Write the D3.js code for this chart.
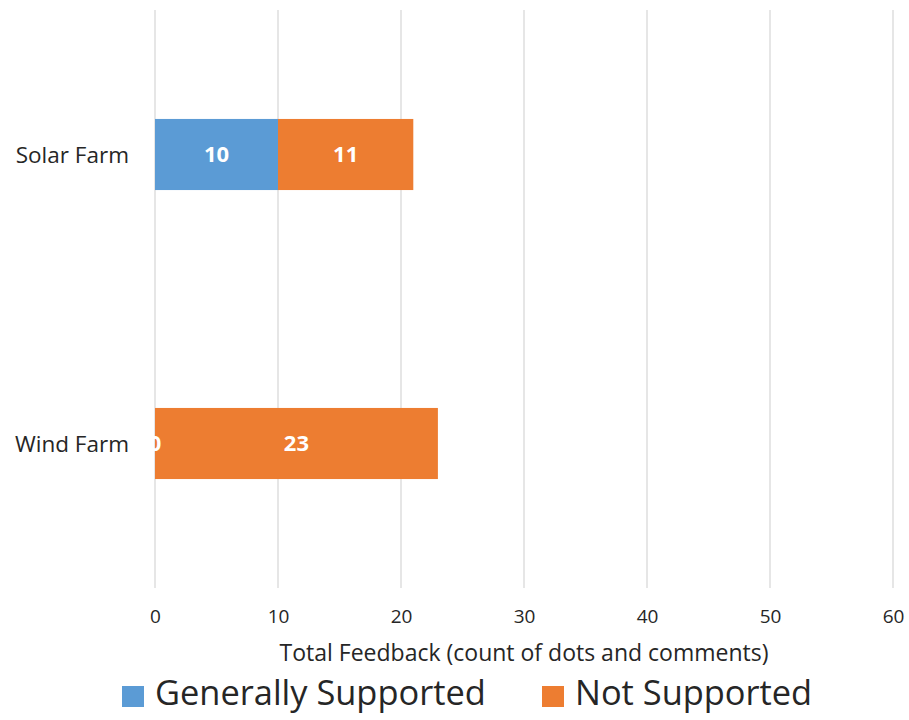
<!DOCTYPE html>
<html>
<head>
<meta charset="utf-8">
<script src="https://cdn.jsdelivr.net/npm/d3@7"></script>
<style>
  html, body { margin: 0; padding: 0; background: #fff; }
  svg { display: block; font-family: "Open Sans", "Noto Sans", sans-serif; }
</style>
</head>
<body>
<svg id="chart" width="909" height="720"></svg>
<script>
// Feedback counts per proposal
const categories = ["Solar Farm", "Wind Farm"];
const seriesNames = ["Generally Supported", "Not Supported"];
const generallySupported = [10, 0];
const notSupported = [11, 23];
const xTicks = [0, 10, 20, 30, 40, 50, 60];
const colors = ["#5B9BD5", "#ED7D31"];

const svg = d3.select("#chart");
const margin = { left: 155, right: 16, top: 10, bottom: 132 };
const W = 909, H = 720;
const plotW = W - margin.left - margin.right;
const plotH = H - margin.top - margin.bottom;

const g = svg.append("g").attr("transform", `translate(${margin.left},${margin.top})`);

const x = d3.scaleLinear().domain([0, 60]).range([0, plotW]);
const y = d3.scaleBand().domain(categories).range([0, plotH]).paddingInner(0.754).paddingOuter(0.377);

// Vertical gridlines
g.append("g").selectAll("line").data(xTicks).join("line")
  .attr("x1", d => x(d)).attr("x2", d => x(d))
  .attr("y1", 0).attr("y2", plotH)
  .attr("stroke", "#D9D9D9").attr("stroke-width", 1.3);

// Stack the two series
const rows = categories.map((c, i) => ({ cat: c, gs: generallySupported[i], ns: notSupported[i] }));
const stack = d3.stack().keys(["gs", "ns"])(rows);

stack.forEach((layer, li) => {
  g.append("g").selectAll("rect").data(layer).join("rect")
    .attr("x", d => x(d[0]))
    .attr("width", d => x(d[1]) - x(d[0]))
    .attr("y", d => y(d.data.cat))
    .attr("height", y.bandwidth())
    .attr("fill", colors[li]);
});

// Segment value labels
stack.forEach((layer, li) => {
  g.append("g").selectAll("text").data(layer).join("text")
    .attr("x", d => (x(d[0]) + x(d[1])) / 2)
    .attr("y", d => y(d.data.cat) + y.bandwidth() / 2)
    .attr("dy", "0.36em")
    .attr("text-anchor", "middle")
    .attr("fill", "#fff")
    .attr("font-weight", "bold")
    .attr("font-size", 22)
    .text(d => d[1] - d[0]);
});

// Category labels
g.append("g").selectAll("text").data(categories).join("text")
  .attr("x", -26)
  .attr("y", d => y(d) + y.bandwidth() / 2)
  .attr("dy", "0.36em")
  .attr("text-anchor", "end")
  .attr("fill", "#262626")
  .attr("font-size", 22.5)
  .text(d => d);

// X axis tick labels
const xAxis = d3.axisBottom(x).tickValues(xTicks).tickSize(0).tickPadding(0);
const ax = g.append("g").attr("transform", `translate(0,${plotH})`).call(xAxis);
ax.select(".domain").remove();
ax.selectAll("text")
  .attr("y", 35).attr("dy", 0)
  .attr("font-size", 19).attr("fill", "#262626")
  .attr("font-family", "\"Open Sans\", sans-serif");

// Axis title
svg.append("text")
  .attr("x", margin.left + x(30))
  .attr("y", 661)
  .attr("text-anchor", "middle")
  .attr("fill", "#262626")
  .attr("font-size", 23)
  .text("Total Feedback (count of dots and comments)");

// Legend
const legend = svg.append("g");
const legendItems = [{ name: seriesNames[0], x: 122 }, { name: seriesNames[1], x: 542 }];
legendItems.forEach((it, i) => {
  legend.append("rect").attr("x", it.x).attr("y", 686).attr("width", 22).attr("height", 21).attr("fill", colors[i]);
  legend.append("text").attr("x", it.x + 33).attr("y", 705)
    .attr("font-size", 34.4).attr("fill", "#262626").text(it.name);
});
</script>
</body>
</html>
